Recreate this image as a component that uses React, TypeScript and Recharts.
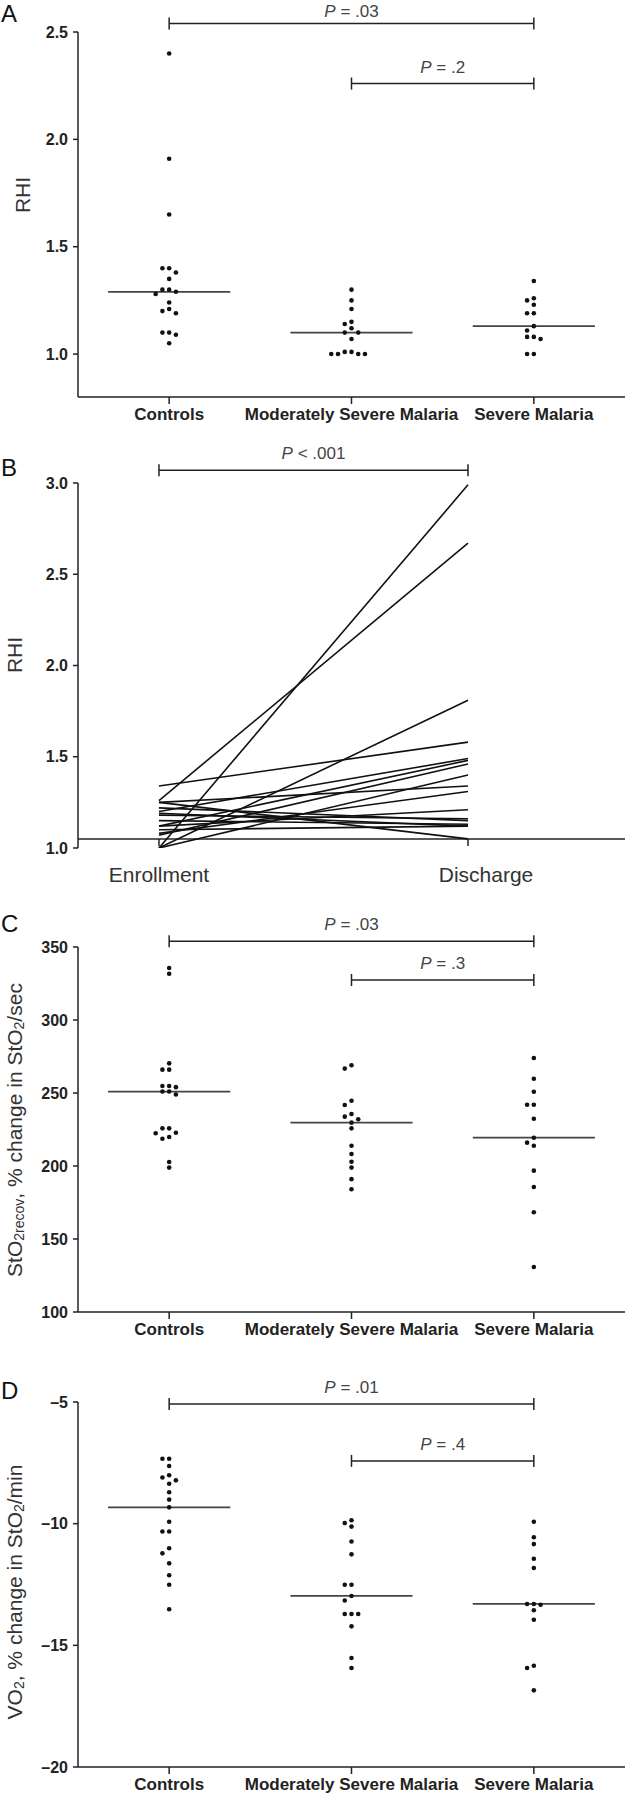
import React from 'react';
import { ScatterChart, Scatter, LineChart, Line, XAxis, YAxis, ReferenceLine } from 'recharts';

const groups = ['Controls', 'Moderately Severe Malaria', 'Severe Malaria'];

// A – RHI by group
const rhiControls = [2.40, 1.91, 1.65, 1.40, 1.40, 1.38, 1.35, 1.30, 1.30, 1.29, 1.28, 1.24, 1.21, 1.20, 1.19, 1.10, 1.10, 1.09, 1.05];
const rhiModerate = [1.30, 1.25, 1.21, 1.15, 1.14, 1.12, 1.10, 1.10, 1.07, 1.01, 1.00, 1.00, 1.00, 1.00, 1.01];
const rhiSevere = [1.34, 1.26, 1.25, 1.23, 1.19, 1.19, 1.13, 1.11, 1.08, 1.08, 1.07, 1.00, 1.00];
const rhiTicks = [1.0, 1.5, 2.0, 2.5];

// B – paired RHI, enrollment vs discharge
const timepoints = ['Enrollment', 'Discharge'];
const rhiEnrollment = [1.00, 1.26, 1.00, 1.34, 1.20, 1.12, 1.07, 1.00, 1.25, 1.08, 1.12, 1.18, 1.22, 1.15, 1.10, 1.19, 1.25];
const rhiDischarge = [2.99, 2.67, 1.81, 1.58, 1.49, 1.48, 1.46, 1.40, 1.34, 1.31, 1.21, 1.16, 1.15, 1.13, 1.12, 1.12, 1.05];
const rhiPairedTicks = [1.0, 1.5, 2.0, 2.5, 3.0];

// C – StO2 recovery
const stoControls = [335.6, 331.7, 270.3, 266, 266, 254.8, 254.8, 254, 251, 251, 249, 225.8, 225.8, 222.8, 222.4, 219.9, 218.7, 202.7, 198.9];
const stoModerate = [269, 266.7, 244.7, 241.8, 235.6, 233.8, 232, 229.7, 225.8, 213.9, 208.2, 202.9, 198.9, 191, 184.1];
const stoSevere = [274, 259.8, 250.9, 242, 242, 232.4, 219.4, 216, 213.9, 196.8, 185.6, 168.3, 130.8];
const stoTicks = [100, 150, 200, 250, 300, 350];

// D – VO2
const vo2Controls = [-7.33, -7.33, -7.63, -8.01, -8.10, -8.22, -8.36, -8.71, -9.01, -9.33, -9.92, -10.32, -10.32, -11.01, -11.22, -11.63, -12.12, -12.51, -13.52];
const vo2Moderate = [-9.86, -9.97, -10.12, -10.73, -11.26, -12.51, -12.51, -12.97, -13.16, -13.71, -13.71, -13.71, -14.22, -15.52, -15.93];
const vo2Severe = [-9.92, -10.56, -10.84, -11.44, -11.82, -13.3, -13.3, -13.33, -13.56, -13.95, -15.84, -15.93, -16.85];
const vo2Ticks = [-20, -15, -10, -5];

// P-value brackets (from/to are group index, at is the value level of the bracket)
const rhiComparisons = [
  { from: 0, to: 2, at: 2.54, p: '= .03' },
  { from: 1, to: 2, at: 2.26, p: '= .2' },
];
const rhiPairedComparisons = [{ from: 0, to: 1, at: 3.07, p: '< .001' }];
const stoComparisons = [
  { from: 0, to: 2, at: 354, p: '= .03' },
  { from: 1, to: 2, at: 327.4, p: '= .3' },
];
const vo2Comparisons = [
  { from: 0, to: 2, at: -5.08, p: '= .01' },
  { from: 1, to: 2, at: -7.42, p: '= .4' },
];

const NARROW = "'Liberation Sans Narrow', 'Arial Narrow', 'Liberation Sans', Arial, sans-serif";
const SANS = "'Liberation Sans', Arial, sans-serif";
const PLOT_H = 365;
const W = 627;

const median = (a: number[]) => {
  const s = [...a].sort((x, y) => x - y);
  const m = Math.floor(s.length / 2);
  return s.length % 2 ? s[m] : (s[m - 1] + s[m]) / 2;
};

// simple beeswarm: spread dots that would overlap sideways
const SLOT = 0.037;
function swarm(values: number[], center: number, pxPerUnit: number) {
  const placed: { x: number; y: number; slot: number }[] = [];
  const order = [0, -1, 1, -2, 2, -3, 3, -4, 4];
  [...values]
    .sort((a, b) => b - a)
    .forEach((v) => {
      const slot =
        order.find((s) => !placed.some((p) => p.slot === s && Math.abs(p.y - v) * pxPerUnit < 5.5)) ?? 0;
      placed.push({ x: center + slot * SLOT, y: v, slot });
    });
  return placed;
}

const bracket = (p: string) => (props: any) => {
  const { x1, x2, y1 } = props;
  return (
    <g>
      <line x1={x1} x2={x2} y1={y1} y2={y1} stroke="#222" strokeWidth={1.5} />
      <line x1={x1} x2={x1} y1={y1 - 6} y2={y1 + 6} stroke="#222" strokeWidth={1.5} />
      <line x1={x2} x2={x2} y1={y1 - 6} y2={y1 + 6} stroke="#222" strokeWidth={1.5} />
      <text
        x={(x1 + x2) / 2}
        y={Math.max(y1 - 11, 17)}
        textAnchor="middle"
        fontFamily={SANS}
        fontSize={17}
        fill="#444"
      >
        <tspan fontStyle="italic">P</tspan> {p}
      </text>
    </g>
  );
};

const dot = (props: any) => <circle cx={props.cx} cy={props.cy} r={2.3} fill="#111" />;

const yTick = { fontFamily: NARROW, fontSize: 16, fontWeight: 700, fill: '#222' };

function DotPanel({
  top,
  marginTop,
  series,
  domain,
  ticks,
  fmt,
  comparisons,
}: {
  top: number;
  marginTop: number;
  series: number[][];
  domain: [number, number];
  ticks: number[];
  fmt: (v: number) => string;
  comparisons: { from: number; to: number; at: number; p: string }[];
}) {
  const pxPerUnit = PLOT_H / (domain[1] - domain[0]);
  return (
    <div style={{ position: 'absolute', left: 0, top }}>
      <ScatterChart width={W} height={marginTop + PLOT_H + 30} margin={{ top: marginTop, right: 2, left: 0, bottom: 0 }}>
        <XAxis
          type="number"
          dataKey="x"
          domain={[0, 3]}
          ticks={[0.5, 1.5, 2.5]}
          interval={0}
          tickFormatter={(v) => groups[Math.floor(v)]}
          height={30}
          tickSize={7}
          tickMargin={4}
          stroke="#222"
          strokeWidth={1.5}
          tick={{ fontFamily: NARROW, fontSize: 17, fontWeight: 700, fill: '#222' }}
        />
        <YAxis
          type="number"
          dataKey="y"
          domain={domain}
          allowDataOverflow
          ticks={ticks}
          interval={0}
          tickFormatter={fmt}
          width={78}
          tickSize={5}
          tickMargin={5}
          stroke="#222"
          strokeWidth={1.5}
          tick={yTick}
        />
        {series.map((vals, i) => (
          <Scatter key={i} data={swarm(vals, i + 0.5, pxPerUnit)} shape={dot} isAnimationActive={false} />
        ))}
        {series.map((vals, i) => (
          <ReferenceLine
            key={'m' + i}
            segment={[
              { x: i + 0.5 - 0.335, y: median(vals) },
              { x: i + 0.5 + 0.335, y: median(vals) },
            ]}
            stroke="#444"
            strokeWidth={1.8}
            ifOverflow="visible"
          />
        ))}
        {comparisons.map((c, i) => (
          <ReferenceLine
            key={'c' + i}
            segment={[
              { x: c.from + 0.5, y: c.at },
              { x: c.to + 0.5, y: c.at },
            ]}
            ifOverflow="visible"
            shape={bracket(c.p)}
          />
        ))}
      </ScatterChart>
    </div>
  );
}

const pairedData = timepoints.map((t, i) => {
  const row: Record<string, number> = { t: i };
  rhiEnrollment.forEach((v, k) => {
    row['p' + k] = i === 0 ? v : rhiDischarge[k];
  });
  return row;
});

const PairedTick = (props: any) => {
  const { x, y, payload } = props;
  const label = timepoints[payload.value];
  return (
    <g>
      <line x1={x} x2={x} y1={y - 9} y2={y - 2} stroke="#222" strokeWidth={1.5} />
      <text x={payload.value === 1 ? x + 18 : x} y={y + 34} textAnchor="middle" fontFamily={SANS} fontSize={21} fill="#333">
        {label}
      </text>
    </g>
  );
};

function PairedPanel({ top }: { top: number }) {
  return (
    <div style={{ position: 'absolute', left: 0, top }}>
      <LineChart width={W} height={53 + PLOT_H + 40} data={pairedData} margin={{ top: 53, right: 2, left: 0, bottom: 0 }}>
        <XAxis
          type="number"
          dataKey="t"
          domain={[-0.262, 1.508]}
          allowDataOverflow
          ticks={[0, 1]}
          interval={0}
          axisLine={false}
          tickLine={false}
          tickSize={0}
          tickMargin={0}
          height={40}
          tick={<PairedTick />}
        />
        <YAxis
          type="number"
          domain={[1, 3]}
          allowDataOverflow
          ticks={rhiPairedTicks}
          interval={0}
          tickFormatter={(v) => v.toFixed(1)}
          width={78}
          tickSize={5}
          tickMargin={5}
          stroke="#222"
          strokeWidth={1.5}
          tick={yTick}
        />
        <ReferenceLine y={1.05} stroke="#222" strokeWidth={1.5} ifOverflow="visible" />
        {rhiEnrollment.map((_, k) => (
          <Line
            key={k}
            type="linear"
            dataKey={'p' + k}
            stroke="#111"
            strokeWidth={1.6}
            dot={false}
            isAnimationActive={false}
          />
        ))}
        {rhiPairedComparisons.map((c, i) => (
          <ReferenceLine
            key={'c' + i}
            segment={[
              { x: c.from, y: c.at },
              { x: c.to, y: c.at },
            ]}
            ifOverflow="visible"
            shape={bracket(c.p)}
          />
        ))}
      </LineChart>
    </div>
  );
}

const titleStyle = { fontFamily: SANS, fill: '#333' };

export default function App() {
  return (
    <div style={{ position: 'absolute', left: 0, top: 0, width: W, height: 1800, background: '#fff' }}>
      <DotPanel
        top={0}
        marginTop={32}
        series={[rhiControls, rhiModerate, rhiSevere]}
        domain={[0.8, 2.5]}
        ticks={rhiTicks}
        fmt={(v) => v.toFixed(1)}
        comparisons={rhiComparisons}
      />
      <PairedPanel top={430} />
      <DotPanel
        top={890}
        marginTop={57}
        series={[stoControls, stoModerate, stoSevere]}
        domain={[100, 350]}
        ticks={stoTicks}
        fmt={(v) => String(v)}
        comparisons={stoComparisons}
      />
      <DotPanel
        top={1345}
        marginTop={57}
        series={[vo2Controls, vo2Moderate, vo2Severe]}
        domain={[-20, -5]}
        ticks={vo2Ticks}
        fmt={(v) => '\u2013' + Math.abs(v)}
        comparisons={vo2Comparisons}
      />
      <svg width={W} height={1800} style={{ position: 'absolute', left: 0, top: 0, pointerEvents: 'none' }}>
        <g fontFamily={SANS} fontSize={24} fill="#111">
          <text x={1} y={22}>A</text>
          <text x={1} y={476}>B</text>
          <text x={1} y={932}>C</text>
          <text x={1} y={1399}>D</text>
        </g>
        <text x={22} y={195} transform="rotate(-90 22 195)" textAnchor="middle" dominantBaseline="central" fontSize={21} {...titleStyle}>
          RHI
        </text>
        <text x={14} y={655} transform="rotate(-90 14 655)" textAnchor="middle" dominantBaseline="central" fontSize={21} {...titleStyle}>
          RHI
        </text>
        <text x={14} y={1130} transform="rotate(-90 14 1130)" textAnchor="middle" dominantBaseline="central" fontSize={21} {...titleStyle}>
          StO<tspan fontSize={14} dy={5}>2recov</tspan>
          <tspan dy={-5}>, % change in StO</tspan>
          <tspan fontSize={14} dy={5}>2</tspan>
          <tspan dy={-5}>/sec</tspan>
        </text>
        <text x={14} y={1592} transform="rotate(-90 14 1592)" textAnchor="middle" dominantBaseline="central" fontSize={21} {...titleStyle}>
          VO<tspan fontSize={14} dy={5}>2</tspan>
          <tspan dy={-5}>, % change in StO</tspan>
          <tspan fontSize={14} dy={5}>2</tspan>
          <tspan dy={-5}>/min</tspan>
        </text>
      </svg>
    </div>
  );
}
